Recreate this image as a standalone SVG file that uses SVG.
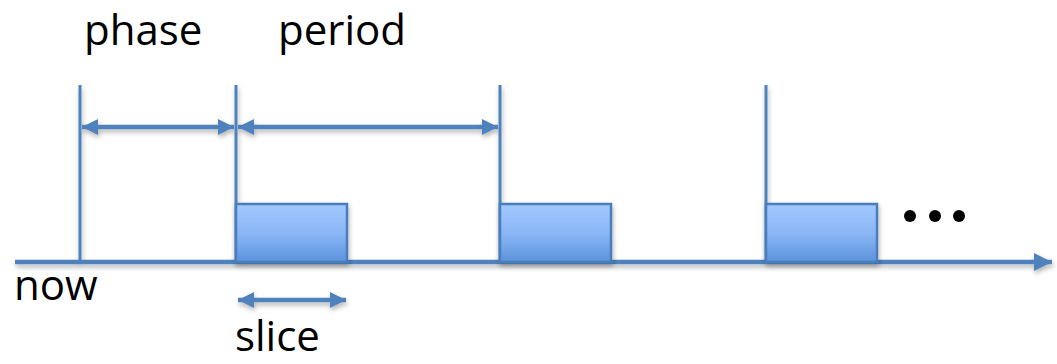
<svg xmlns="http://www.w3.org/2000/svg" width="1057" height="364" viewBox="0 0 1057 364">
  <style>
    .lbl { font-family: "Open Sans", "Liberation Sans", sans-serif; font-size: 42px; fill: #000; }
    .tick { stroke: #4F81BD; stroke-width: 3; fill: none; }
    .dim { stroke: #4F81BD; stroke-width: 4.5; fill: none; marker-start: url(#headStart); marker-end: url(#headEnd); }
    .axis { stroke: #4F81BD; stroke-width: 4.5; fill: none; marker-end: url(#axisEnd); }
    .slice { fill: url(#sliceFill); stroke: #4A7EBB; stroke-width: 2.5; }
  </style>
  <defs>
    <linearGradient id="sliceFill" x1="0" y1="0" x2="0" y2="1">
      <stop offset="0" stop-color="#A3C8FF"/>
      <stop offset="0.5" stop-color="#8AB6F5"/>
      <stop offset="1" stop-color="#5B93DC"/>
    </linearGradient>
    <filter id="shadow" x="-10%" y="-20%" width="130%" height="160%">
      <feGaussianBlur in="SourceAlpha" stdDeviation="2.5"/>
      <feOffset dx="1" dy="3" result="b"/>
      <feComponentTransfer><feFuncA type="linear" slope="0.3"/></feComponentTransfer>
      <feMerge><feMergeNode/><feMergeNode in="SourceGraphic"/></feMerge>
    </filter>
    <marker id="headEnd" markerUnits="userSpaceOnUse" markerWidth="18" markerHeight="18" refX="16" refY="8" orient="auto">
      <path d="M0,0 L16,8 L0,16 Z" fill="#4F81BD"/>
    </marker>
    <marker id="headStart" markerUnits="userSpaceOnUse" markerWidth="18" markerHeight="18" refX="0" refY="8" orient="auto">
      <path d="M16,0 L0,8 L16,16 Z" fill="#4F81BD"/>
    </marker>
    <marker id="axisEnd" markerUnits="userSpaceOnUse" markerWidth="20" markerHeight="20" refX="18" refY="9" orient="auto">
      <path d="M0,0 L18,9 L0,18 Z" fill="#4F81BD"/>
    </marker>
  </defs>

  <!-- time axis, tick marks and dimension arrows -->
  <g id="connectors" filter="url(#shadow)">
    <line class="tick" x1="80" y1="85" x2="80" y2="262"/>
    <line class="tick" x1="236" y1="85" x2="236" y2="262"/>
    <line class="tick" x1="500" y1="85" x2="500" y2="262"/>
    <line class="tick" x1="766" y1="85" x2="766" y2="262"/>
    <line class="dim" x1="82" y1="127" x2="234" y2="127"/>
    <line class="dim" x1="238" y1="127" x2="498" y2="127"/>
    <line class="dim" x1="238" y1="300" x2="346" y2="300"/>
    <line class="axis" x1="15" y1="262" x2="1052" y2="262"/>
  </g>

  <!-- execution slices -->
  <g id="slice1" filter="url(#shadow)"><rect class="slice" x="236" y="204" width="111" height="58"/></g>
  <g id="slice2" filter="url(#shadow)"><rect class="slice" x="500" y="204" width="111" height="58"/></g>
  <g id="slice3" filter="url(#shadow)"><rect class="slice" x="766" y="204" width="111" height="58"/></g>

  <!-- continuation dots -->
  <g id="ellipsis" fill="#000">
    <circle cx="910" cy="216" r="6"/>
    <circle cx="935" cy="216" r="6"/>
    <circle cx="959" cy="216" r="6"/>
  </g>

  <g id="labels">
    <text class="lbl" x="84" y="45">phase</text>
    <text class="lbl" x="278" y="45">period</text>
    <text class="lbl" x="14" y="300">now</text>
    <text class="lbl" x="235" y="351">slice</text>
  </g>
</svg>
